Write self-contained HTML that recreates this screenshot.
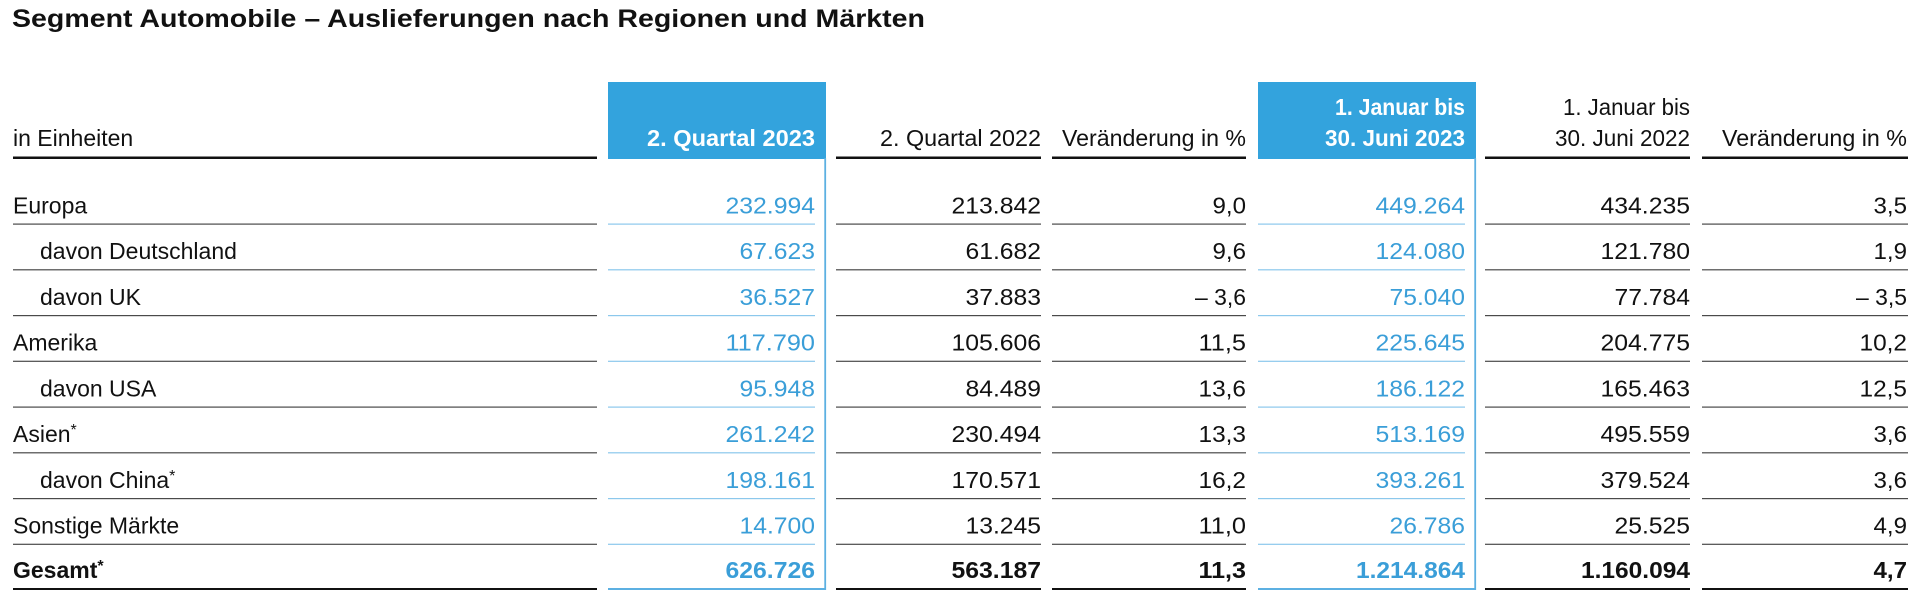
<!DOCTYPE html>
<html>
<head>
<meta charset="utf-8">
<style>
html,body{margin:0;padding:0;background:#fff;}
svg{display:block;}
text{font-family:"Liberation Sans",Arial,sans-serif;}
</style>
</head>
<body>
<svg width="1920" height="602" viewBox="0 0 1920 602" xmlns="http://www.w3.org/2000/svg">
  <!-- Title -->
  <text x="12" y="27" font-size="25" font-weight="bold" fill="#111" textLength="913" lengthAdjust="spacingAndGlyphs">Segment Automobile – Auslieferungen nach Regionen und Märkten</text>

  <!-- Blue header boxes -->
  <rect x="608" y="82" width="218" height="77" fill="#33a3dd"/>
  <rect x="1258" y="82" width="218" height="77" fill="#33a3dd"/>

  <!-- Header texts -->
  <g font-size="23" fill="#111">
    <text x="13" y="146">in Einheiten</text>
    <text x="1041" y="146" text-anchor="end" textLength="161" lengthAdjust="spacingAndGlyphs">2. Quartal 2022</text>
    <text x="1246" y="146" text-anchor="end" textLength="184" lengthAdjust="spacingAndGlyphs">Veränderung in %</text>
    <text x="1690" y="115" text-anchor="end" textLength="127" lengthAdjust="spacingAndGlyphs">1. Januar bis</text>
    <text x="1690" y="146" text-anchor="end" textLength="135" lengthAdjust="spacingAndGlyphs">30. Juni 2022</text>
    <text x="1907" y="146" text-anchor="end" textLength="185" lengthAdjust="spacingAndGlyphs">Veränderung in %</text>
  </g>
  <g font-size="23" font-weight="bold" fill="#fff">
    <text x="815" y="146" text-anchor="end" textLength="168" lengthAdjust="spacingAndGlyphs">2. Quartal 2023</text>
    <text x="1465" y="115" text-anchor="end" textLength="130" lengthAdjust="spacingAndGlyphs">1. Januar bis</text>
    <text x="1465" y="146" text-anchor="end" textLength="140" lengthAdjust="spacingAndGlyphs">30. Juni 2023</text>
  </g>

  <!-- Header rules -->
  <g fill="#111">
    <rect x="13" y="156.5" width="584" height="2.5"/>
    <rect x="836" y="156.5" width="205" height="2.5"/>
    <rect x="1052" y="156.5" width="194" height="2.5"/>
    <rect x="1485" y="156.5" width="205" height="2.5"/>
    <rect x="1702" y="156.5" width="206" height="2.5"/>
  </g>

  <!-- Blue column right borders and bottoms -->
  <g fill="#5cb0e2">
    <rect x="824.3" y="158" width="1.8" height="432"/>
    <rect x="1474.3" y="158" width="1.8" height="432"/>
    <rect x="608" y="588" width="218" height="2"/>
    <rect x="1258" y="588" width="218" height="2"/>
  </g>

  <!-- Final black rules -->
  <g fill="#111">
    <rect x="13" y="588" width="584" height="2"/>
    <rect x="836" y="588" width="205" height="2"/>
    <rect x="1052" y="588" width="194" height="2"/>
    <rect x="1485" y="588" width="205" height="2"/>
    <rect x="1702" y="588" width="206" height="2"/>
  </g>

  <!-- Row separators (dark) -->
  <g fill="#4a4a4a">
    <rect x="13" y="223.5" width="584" height="1.2"/><rect x="836" y="223.5" width="205" height="1.2"/><rect x="1052" y="223.5" width="194" height="1.2"/><rect x="1485" y="223.5" width="205" height="1.2"/><rect x="1702" y="223.5" width="206" height="1.2"/>
    <rect x="13" y="269.2" width="584" height="1.2"/><rect x="836" y="269.2" width="205" height="1.2"/><rect x="1052" y="269.2" width="194" height="1.2"/><rect x="1485" y="269.2" width="205" height="1.2"/><rect x="1702" y="269.2" width="206" height="1.2"/>
    <rect x="13" y="315" width="584" height="1.2"/><rect x="836" y="315" width="205" height="1.2"/><rect x="1052" y="315" width="194" height="1.2"/><rect x="1485" y="315" width="205" height="1.2"/><rect x="1702" y="315" width="206" height="1.2"/>
    <rect x="13" y="360.7" width="584" height="1.2"/><rect x="836" y="360.7" width="205" height="1.2"/><rect x="1052" y="360.7" width="194" height="1.2"/><rect x="1485" y="360.7" width="205" height="1.2"/><rect x="1702" y="360.7" width="206" height="1.2"/>
    <rect x="13" y="406.5" width="584" height="1.2"/><rect x="836" y="406.5" width="205" height="1.2"/><rect x="1052" y="406.5" width="194" height="1.2"/><rect x="1485" y="406.5" width="205" height="1.2"/><rect x="1702" y="406.5" width="206" height="1.2"/>
    <rect x="13" y="452.2" width="584" height="1.2"/><rect x="836" y="452.2" width="205" height="1.2"/><rect x="1052" y="452.2" width="194" height="1.2"/><rect x="1485" y="452.2" width="205" height="1.2"/><rect x="1702" y="452.2" width="206" height="1.2"/>
    <rect x="13" y="498" width="584" height="1.2"/><rect x="836" y="498" width="205" height="1.2"/><rect x="1052" y="498" width="194" height="1.2"/><rect x="1485" y="498" width="205" height="1.2"/><rect x="1702" y="498" width="206" height="1.2"/>
    <rect x="13" y="543.7" width="584" height="1.2"/><rect x="836" y="543.7" width="205" height="1.2"/><rect x="1052" y="543.7" width="194" height="1.2"/><rect x="1485" y="543.7" width="205" height="1.2"/><rect x="1702" y="543.7" width="206" height="1.2"/>
  </g>
  <!-- Row separators (blue columns) -->
  <g fill="#8cc8ec">
    <rect x="608" y="223.5" width="207" height="1.2"/><rect x="1258" y="223.5" width="207" height="1.2"/>
    <rect x="608" y="269.2" width="207" height="1.2"/><rect x="1258" y="269.2" width="207" height="1.2"/>
    <rect x="608" y="315" width="207" height="1.2"/><rect x="1258" y="315" width="207" height="1.2"/>
    <rect x="608" y="360.7" width="207" height="1.2"/><rect x="1258" y="360.7" width="207" height="1.2"/>
    <rect x="608" y="406.5" width="207" height="1.2"/><rect x="1258" y="406.5" width="207" height="1.2"/>
    <rect x="608" y="452.2" width="207" height="1.2"/><rect x="1258" y="452.2" width="207" height="1.2"/>
    <rect x="608" y="498" width="207" height="1.2"/><rect x="1258" y="498" width="207" height="1.2"/>
    <rect x="608" y="543.7" width="207" height="1.2"/><rect x="1258" y="543.7" width="207" height="1.2"/>
  </g>

  <!-- Row labels -->
  <g font-size="23" fill="#111">
    <text x="13" y="213.3">Europa</text>
    <text x="40" y="259">davon Deutschland</text>
    <text x="40" y="304.8">davon UK</text>
    <text x="13" y="350.5">Amerika</text>
    <text x="40" y="396.3">davon USA</text>
    <text x="13" y="442">Asien<tspan font-size="16" dy="-7">*</tspan></text>
    <text x="40" y="487.8">davon China<tspan font-size="16" dy="-7">*</tspan></text>
    <text x="13" y="533.5">Sonstige Märkte</text>
    <text x="13" y="578" font-weight="bold">Gesamt<tspan font-size="16" dy="-7">*</tspan></text>
  </g>

  <!-- Blue column values -->
  <g font-size="23" fill="#3a9ed8" text-anchor="end" lengthAdjust="spacingAndGlyphs">
    <text x="815" y="213.3" textLength="89.5" lengthAdjust="spacingAndGlyphs">232.994</text>
    <text x="815" y="259" textLength="75.5" lengthAdjust="spacingAndGlyphs">67.623</text>
    <text x="815" y="304.8" textLength="75.5" lengthAdjust="spacingAndGlyphs">36.527</text>
    <text x="815" y="350.5" textLength="89.5" lengthAdjust="spacingAndGlyphs">117.790</text>
    <text x="815" y="396.3" textLength="75.5" lengthAdjust="spacingAndGlyphs">95.948</text>
    <text x="815" y="442" textLength="89.5" lengthAdjust="spacingAndGlyphs">261.242</text>
    <text x="815" y="487.8" textLength="89.5" lengthAdjust="spacingAndGlyphs">198.161</text>
    <text x="815" y="533.5" textLength="75.5" lengthAdjust="spacingAndGlyphs">14.700</text>
    <text x="815" y="578" font-weight="bold" textLength="89.5" lengthAdjust="spacingAndGlyphs">626.726</text>

    <text x="1465" y="213.3" textLength="89.5" lengthAdjust="spacingAndGlyphs">449.264</text>
    <text x="1465" y="259" textLength="89.5" lengthAdjust="spacingAndGlyphs">124.080</text>
    <text x="1465" y="304.8" textLength="75.5" lengthAdjust="spacingAndGlyphs">75.040</text>
    <text x="1465" y="350.5" textLength="89.5" lengthAdjust="spacingAndGlyphs">225.645</text>
    <text x="1465" y="396.3" textLength="89.5" lengthAdjust="spacingAndGlyphs">186.122</text>
    <text x="1465" y="442" textLength="89.5" lengthAdjust="spacingAndGlyphs">513.169</text>
    <text x="1465" y="487.8" textLength="89.5" lengthAdjust="spacingAndGlyphs">393.261</text>
    <text x="1465" y="533.5" textLength="75.5" lengthAdjust="spacingAndGlyphs">26.786</text>
    <text x="1465" y="578" font-weight="bold" textLength="109" lengthAdjust="spacingAndGlyphs">1.214.864</text>
  </g>

  <!-- Black column values -->
  <g font-size="23" fill="#111" text-anchor="end">
    <!-- col 3 -->
    <text x="1041" y="213.3" textLength="89.5" lengthAdjust="spacingAndGlyphs">213.842</text>
    <text x="1041" y="259" textLength="75.5" lengthAdjust="spacingAndGlyphs">61.682</text>
    <text x="1041" y="304.8" textLength="75.5" lengthAdjust="spacingAndGlyphs">37.883</text>
    <text x="1041" y="350.5" textLength="89.5" lengthAdjust="spacingAndGlyphs">105.606</text>
    <text x="1041" y="396.3" textLength="75.5" lengthAdjust="spacingAndGlyphs">84.489</text>
    <text x="1041" y="442" textLength="89.5" lengthAdjust="spacingAndGlyphs">230.494</text>
    <text x="1041" y="487.8" textLength="89.5" lengthAdjust="spacingAndGlyphs">170.571</text>
    <text x="1041" y="533.5" textLength="75.5" lengthAdjust="spacingAndGlyphs">13.245</text>
    <text x="1041" y="578" font-weight="bold" textLength="89.5" lengthAdjust="spacingAndGlyphs">563.187</text>
    <!-- col 4 -->
    <text x="1246" y="213.3" textLength="33.5" lengthAdjust="spacingAndGlyphs">9,0</text>
    <text x="1246" y="259" textLength="33.5" lengthAdjust="spacingAndGlyphs">9,6</text>
    <text x="1246" y="304.8" textLength="51" lengthAdjust="spacingAndGlyphs">– 3,6</text>
    <text x="1246" y="350.5" textLength="47.5" lengthAdjust="spacingAndGlyphs">11,5</text>
    <text x="1246" y="396.3" textLength="47.5" lengthAdjust="spacingAndGlyphs">13,6</text>
    <text x="1246" y="442" textLength="47.5" lengthAdjust="spacingAndGlyphs">13,3</text>
    <text x="1246" y="487.8" textLength="47.5" lengthAdjust="spacingAndGlyphs">16,2</text>
    <text x="1246" y="533.5" textLength="47.5" lengthAdjust="spacingAndGlyphs">11,0</text>
    <text x="1246" y="578" font-weight="bold" textLength="47.5" lengthAdjust="spacingAndGlyphs">11,3</text>
    <!-- col 6 -->
    <text x="1690" y="213.3" textLength="89.5" lengthAdjust="spacingAndGlyphs">434.235</text>
    <text x="1690" y="259" textLength="89.5" lengthAdjust="spacingAndGlyphs">121.780</text>
    <text x="1690" y="304.8" textLength="75.5" lengthAdjust="spacingAndGlyphs">77.784</text>
    <text x="1690" y="350.5" textLength="89.5" lengthAdjust="spacingAndGlyphs">204.775</text>
    <text x="1690" y="396.3" textLength="89.5" lengthAdjust="spacingAndGlyphs">165.463</text>
    <text x="1690" y="442" textLength="89.5" lengthAdjust="spacingAndGlyphs">495.559</text>
    <text x="1690" y="487.8" textLength="89.5" lengthAdjust="spacingAndGlyphs">379.524</text>
    <text x="1690" y="533.5" textLength="75.5" lengthAdjust="spacingAndGlyphs">25.525</text>
    <text x="1690" y="578" font-weight="bold" textLength="109" lengthAdjust="spacingAndGlyphs">1.160.094</text>
    <!-- col 7 -->
    <text x="1907" y="213.3" textLength="33.5" lengthAdjust="spacingAndGlyphs">3,5</text>
    <text x="1907" y="259" textLength="33.5" lengthAdjust="spacingAndGlyphs">1,9</text>
    <text x="1907" y="304.8" textLength="51" lengthAdjust="spacingAndGlyphs">– 3,5</text>
    <text x="1907" y="350.5" textLength="47.5" lengthAdjust="spacingAndGlyphs">10,2</text>
    <text x="1907" y="396.3" textLength="47.5" lengthAdjust="spacingAndGlyphs">12,5</text>
    <text x="1907" y="442" textLength="33.5" lengthAdjust="spacingAndGlyphs">3,6</text>
    <text x="1907" y="487.8" textLength="33.5" lengthAdjust="spacingAndGlyphs">3,6</text>
    <text x="1907" y="533.5" textLength="33.5" lengthAdjust="spacingAndGlyphs">4,9</text>
    <text x="1907" y="578" font-weight="bold" textLength="33.5" lengthAdjust="spacingAndGlyphs">4,7</text>
  </g>
</svg>
</body>
</html>
